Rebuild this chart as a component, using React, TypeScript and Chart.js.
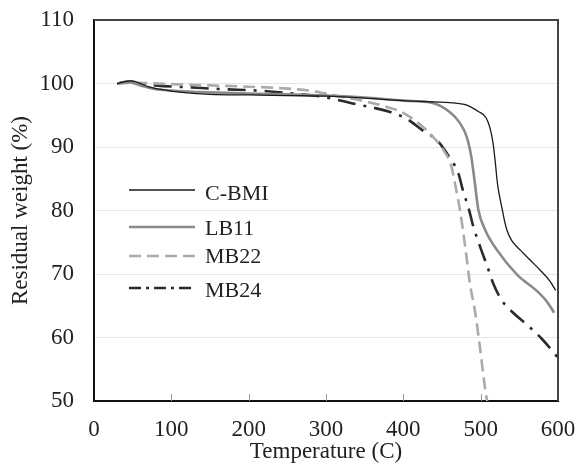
import React, { useEffect, useRef } from "react";
import { Chart, registerables } from "chart.js";

Chart.register(...registerables);

// ---- data (temperature in °C, residual weight in %) ----
const cbmiT = [30, 40, 48, 58, 70, 85, 100, 125, 150, 200, 250, 300, 350, 400, 440, 460, 482, 497, 507, 512, 516, 519, 521, 523, 528, 531, 534, 540, 551, 564, 577, 590, 597];
const cbmiW = [100, 100.3, 100.4, 100.1, 99.5, 99.1, 98.8, 98.5, 98.3, 98.2, 98.1, 98.0, 97.7, 97.3, 97.1, 97.0, 96.6, 95.6, 94.6, 93.0, 90.6, 87.5, 85.0, 83.2, 80.1, 78.3, 76.9, 75.3, 73.8, 72.2, 70.6, 68.8, 67.4];

const lb11T = [30, 45, 60, 80, 100, 150, 200, 250, 300, 350, 400, 439, 460, 473, 482, 488, 492, 497, 506, 521, 547, 573, 586, 595];
const lb11W = [100, 100.2, 99.7, 99.1, 98.9, 98.6, 98.4, 98.3, 98.1, 97.8, 97.3, 96.9, 95.5, 93.8, 91.6, 88.4, 84.8, 80.1, 76.9, 73.8, 69.9, 67.3, 65.6, 63.9];

const mb22T = [30, 50, 100, 150, 200, 250, 283, 308, 354, 379, 398, 419, 437, 452, 462, 468, 474, 480, 486, 493, 499, 506, 509];
const mb22W = [100, 100.1, 99.9, 99.7, 99.5, 99.2, 98.8, 98.2, 97.1, 96.3, 95.5, 93.8, 91.8, 89.5, 87.0, 83.5, 79.5, 74.3, 68.6, 63.9, 58.5, 51.7, 49.5];

const mb24T = [30, 45, 60, 80, 124, 167, 210, 250, 296, 333, 383, 405, 424, 444, 460, 471, 477, 485, 490, 499, 508, 516, 527, 542, 560, 579, 594, 600];
const mb24W = [100, 100.3, 100.1, 99.7, 99.4, 99.1, 98.9, 98.5, 97.9, 96.9, 95.5, 94.4, 92.7, 91.0, 88.3, 85.9, 83.2, 80.1, 77.7, 74.4, 71.4, 68.6, 65.9, 63.9, 62.0, 59.8, 57.7, 56.8];

const seriesNames = ["C-BMI", "LB11", "MB22", "MB24"];
const xTicks = [0, 100, 200, 300, 400, 500, 600];
const yTicks = [50, 60, 70, 80, 90, 100, 110];

const toPoints = (t: number[], w: number[]) => t.map((x, i) => ({ x, y: w[i] }));

const FONT = "'Liberation Serif', 'Times New Roman', serif";
const TEXT = "#222";

const styles = [
  { color: "#1a1a1a", width: 1.3, dash: [] as number[], legendDash: [] as number[] },
  { color: "#8a8a8a", width: 2.6, dash: [] as number[], legendDash: [] as number[] },
  { color: "#aaaaaa", width: 2.6, dash: [12, 6], legendDash: [12, 6] },
  { color: "#2a2a2a", width: 2.6, dash: [18, 8, 3, 8], legendDash: [12, 5, 3, 5] },
];

const legendRows = [
  { lineY: 190, baseY: 200 },
  { lineY: 227, baseY: 235 },
  { lineY: 256, baseY: 263 },
  { lineY: 288, baseY: 297 },
];

const framePlugin = {
  id: "frameAndLegend",
  afterDatasetsDraw(chart: any) {
    const { ctx, chartArea, scales } = chart;
    const xs = scales.x;
    ctx.save();
    // inner tick marks on the x axis
    ctx.strokeStyle = "#999";
    ctx.lineWidth = 1;
    xTicks.slice(1, -1).forEach((v) => {
      const px = Math.round(xs.getPixelForValue(v)) + 0.5;
      ctx.beginPath();
      ctx.moveTo(px, chartArea.bottom);
      ctx.lineTo(px, chartArea.bottom - 7);
      ctx.stroke();
    });
    // top and right frame
    ctx.strokeStyle = "#444";
    ctx.lineWidth = 2;
    ctx.beginPath();
    ctx.moveTo(chartArea.left, chartArea.top);
    ctx.lineTo(chartArea.right, chartArea.top);
    ctx.lineTo(chartArea.right, chartArea.bottom);
    ctx.stroke();
    // legend
    ctx.font = `22px ${FONT}`;
    ctx.fillStyle = TEXT;
    ctx.textAlign = "left";
    ctx.textBaseline = "alphabetic";
    seriesNames.forEach((name, i) => {
      const s = styles[i];
      const r = legendRows[i];
      ctx.strokeStyle = s.color;
      ctx.lineWidth = s.width + (i === 0 ? 0.3 : 0);
      ctx.setLineDash(s.legendDash);
      ctx.beginPath();
      ctx.moveTo(129, r.lineY);
      ctx.lineTo(195, r.lineY);
      ctx.stroke();
      ctx.setLineDash([]);
      ctx.fillText(name, 205, r.baseY);
    });
    ctx.restore();
  },
};

export default function App() {
  const ref = useRef<HTMLCanvasElement | null>(null);
  useEffect(() => {
    if (!ref.current) return;
    const data = [
      toPoints(cbmiT, cbmiW),
      toPoints(lb11T, lb11W),
      toPoints(mb22T, mb22W),
      toPoints(mb24T, mb24W),
    ];
    const chart = new Chart(ref.current, {
      type: "line",
      data: {
        datasets: seriesNames.map((name, i) => ({
          label: name,
          data: data[i],
          borderColor: styles[i].color,
          borderWidth: styles[i].width,
          borderDash: styles[i].dash,
          pointRadius: 0,
          fill: false,
          cubicInterpolationMode: "monotone" as const,
        })),
      },
      options: {
        animation: false,
        responsive: false,
        devicePixelRatio: 1,
        layout: { padding: { left: 0, top: 20, right: 19, bottom: 0 } },
        plugins: { legend: { display: false }, tooltip: { enabled: false } },
        scales: {
          x: {
            type: "linear",
            min: 0,
            max: 600,
            afterFit: (s: any) => {
              s.height = 65;
              s.paddingLeft = 0;
              s.paddingRight = 0;
            },
            afterBuildTicks: (s: any) => {
              s.ticks = xTicks.map((v) => ({ value: v }));
            },
            grid: { display: false, drawTicks: false },
            border: { display: true, color: "#111", width: 2 },
            ticks: { padding: 15, color: TEXT, font: { family: FONT, size: 23 } },
            title: {
              display: true,
              text: "Temperature (C)",
              color: TEXT,
              padding: 0,
              font: { family: FONT, size: 23 },
            },
          },
          y: {
            type: "linear",
            min: 50,
            max: 110,
            afterFit: (s: any) => {
              s.width = 94;
              s.paddingTop = 0;
              s.paddingBottom = 0;
            },
            afterBuildTicks: (s: any) => {
              s.ticks = yTicks.map((v) => ({ value: v }));
            },
            grid: {
              color: (c: any) => (c.tick && (c.tick.value === 50 || c.tick.value === 110) ? "rgba(0,0,0,0)" : "#e6e6e6"),
              lineWidth: 1,
              drawTicks: false,
            },
            border: { display: true, color: "#111", width: 2 },
            ticks: { padding: 20, color: TEXT, font: { family: FONT, size: 23 } },
            title: {
              display: true,
              text: "Residual weight (%)",
              color: TEXT,
              padding: { top: 7, bottom: 0 },
              font: { family: FONT, size: 23 },
            },
          },
        },
      },
      plugins: [framePlugin],
    });
    return () => chart.destroy();
  }, []);
  return (
    <div style={{ position: "absolute", left: 0, top: 0, width: 577, height: 466, background: "#fff" }}>
      <canvas ref={ref} width={577} height={466} style={{ display: "block" }} />
    </div>
  );
}
